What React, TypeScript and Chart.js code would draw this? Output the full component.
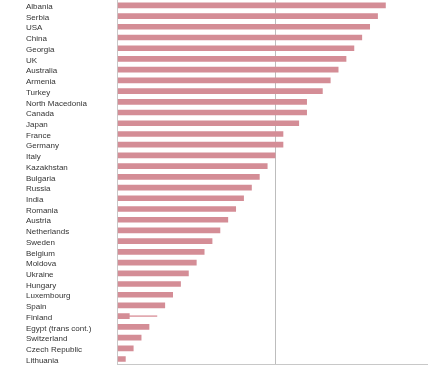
import React, { useEffect, useRef } from "react";
import { Chart, registerables } from "chart.js";

Chart.register(...registerables);

const countries = [
  "Albania", "Serbia", "USA", "China", "Georgia", "UK", "Australia", "Armenia",
  "Turkey", "North Macedonia", "Canada", "Japan", "France", "Germany", "Italy",
  "Kazakhstan", "Bulgaria", "Russia", "India", "Romania", "Austria", "Netherlands",
  "Sweden", "Belgium", "Moldova", "Ukraine", "Hungary", "Luxembourg", "Spain",
  "Finland", "Egypt (trans cont.)", "Switzerland", "Czech Republic", "Lithuania",
];

const values = [
  17, 16.5, 16, 15.5, 15, 14.5, 14, 13.5,
  13, 12, 12, 11.5, 10.5, 10.5, 10,
  9.5, 9, 8.5, 8, 7.5, 7, 6.5,
  6, 5.5, 5, 4.5, 4, 3.5, 3,
  0.75, 2, 1.5, 1, 0.5,
];

// thin range line shown on Finland's row
const finlandRange: [number, number] = [0.75, 2.5];
const rangeValues = countries.map((c) => (c === "Finland" ? finlandRange : null));

const xMax = 19.7;
const gridValue = 10;

export default function App() {
  const ref = useRef<HTMLCanvasElement | null>(null);

  useEffect(() => {
    document.body.style.margin = "0";
    if (!ref.current) return;
    const chart = new Chart(ref.current, {
      type: "bar",
      data: {
        labels: countries,
        datasets: [
          {
            data: values,
            backgroundColor: "#d48d96",
            barThickness: 5,
            grouped: false,
            order: 1,
          },
          {
            data: rangeValues as any,
            backgroundColor: "#e2aab1",
            barThickness: 1,
            grouped: false,
            order: 2,
          },
        ],
      },
      options: {
        indexAxis: "y",
        animation: false,
        responsive: true,
        maintainAspectRatio: false,
        layout: { padding: { left: 26, top: 0, bottom: 4.6, right: 0 } },
        plugins: { legend: { display: false }, tooltip: { enabled: false } },
        scales: {
          x: {
            min: 0,
            max: xMax,
            ticks: { display: false, stepSize: 10 },
            grid: {
              drawTicks: false,
              color: (ctx: any) => (ctx.tick && ctx.tick.value === gridValue ? "#bdbdbd" : "rgba(0,0,0,0)"),
            },
            border: { color: "#c8c8c8" },
            afterFit: (scale: any) => {
              scale.paddingLeft = 0;
              scale.paddingRight = 0;
            },
          },
          y: {
            grid: { display: false, drawTicks: false },
            border: { color: "#c8c8c8" },
            ticks: {
              crossAlign: "far",
              autoSkip: false,
              color: "#333",
              padding: 0,
              labelOffset: 1.5,
              font: { family: "'Liberation Sans', Arial, sans-serif", size: 8 },
            },
            afterFit: (scale: any) => {
              scale.width = 91.5;
              scale.paddingTop = 0;
              scale.paddingBottom = 0;
            },
          },
        },
      },
    });
    return () => chart.destroy();
  }, []);

  return (
    <div style={{ position: "relative", width: 428, height: 369 }}>
      <canvas ref={ref} />
    </div>
  );
}
